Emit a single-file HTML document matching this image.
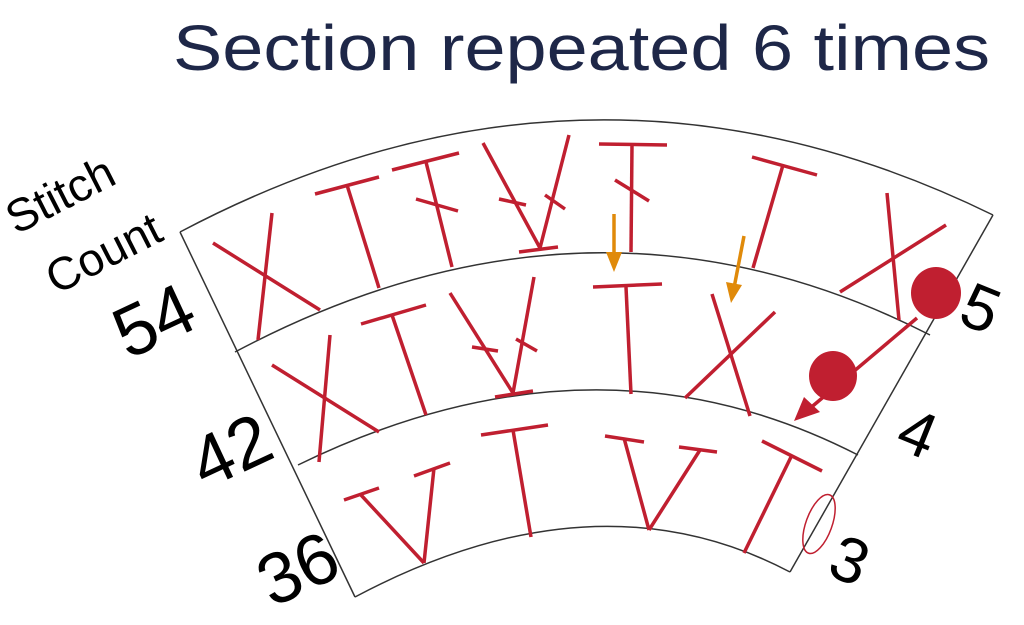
<!DOCTYPE html>
<html><head><meta charset="utf-8"><style>
html,body{margin:0;padding:0;background:#fff;}
svg{display:block;}
</style></head><body>
<svg width="1024" height="625" viewBox="0 0 1024 625" xmlns="http://www.w3.org/2000/svg">
<text x="173" y="70" font-family="Liberation Sans, sans-serif" font-size="64" fill="#1e2748" textLength="817" lengthAdjust="spacingAndGlyphs">Section repeated 6 times</text>

<g fill="none" stroke="#333" stroke-width="1.5">
<path d="M180 232 Q588 16.5 993 215"/>
<path d="M235 352 Q592 162.5 930 335"/>
<path d="M298 465 Q595 320 858 455"/>
<path d="M355 597 Q595 469.5 790 572"/>
<path d="M180 232 L355 597"/>
<path d="M993 215 L790 572"/>
</g>

<g stroke="#c01f30" stroke-width="3.5" stroke-linecap="butt" fill="none">
<line x1="213" y1="243" x2="320" y2="310"/><line x1="272" y1="213" x2="258" y2="340"/>
<line x1="315" y1="194" x2="379" y2="177"/><line x1="347" y1="185" x2="379" y2="288"/>
<line x1="392" y1="170" x2="459" y2="153"/><line x1="426" y1="162" x2="452" y2="267"/><line x1="416" y1="199" x2="458" y2="211"/>
<line x1="483" y1="143" x2="540" y2="248"/><line x1="569" y1="135" x2="540" y2="248"/><line x1="519" y1="252" x2="558" y2="247"/>
<line x1="499" y1="199" x2="526" y2="205"/><line x1="545" y1="195" x2="565" y2="209"/>
<line x1="599" y1="144" x2="667" y2="145"/><line x1="632" y1="145" x2="631" y2="252"/><line x1="615" y1="180" x2="649" y2="201"/>
<line x1="752" y1="157" x2="817" y2="175"/><line x1="783" y1="165" x2="753" y2="268"/>
<line x1="887" y1="193" x2="899" y2="320"/><line x1="946" y1="225" x2="840" y2="292"/>
<line x1="272" y1="365" x2="379" y2="432"/><line x1="330" y1="335" x2="319" y2="462"/>
<line x1="361" y1="324" x2="426" y2="305"/><line x1="392" y1="315" x2="426" y2="415"/>
<line x1="450" y1="293" x2="513" y2="393"/><line x1="534" y1="277" x2="513" y2="393"/><line x1="495" y1="397" x2="533" y2="391"/>
<line x1="472" y1="347" x2="498" y2="351"/><line x1="516" y1="339" x2="537" y2="351"/>
<line x1="593" y1="287" x2="662" y2="284"/><line x1="626" y1="287" x2="631" y2="394"/>
<line x1="712" y1="294" x2="750" y2="416"/><line x1="775" y1="312" x2="685" y2="398"/>
<line x1="344" y1="500" x2="379" y2="488"/><line x1="361" y1="495" x2="424" y2="563"/>
<line x1="414" y1="476" x2="450" y2="463"/><line x1="434" y1="468" x2="424" y2="563"/>
<line x1="481" y1="435" x2="548" y2="425"/><line x1="513" y1="430" x2="531" y2="537"/>
<line x1="605" y1="436" x2="644" y2="442"/><line x1="624" y1="438" x2="649" y2="530"/><line x1="700" y1="450" x2="649" y2="530"/><line x1="679" y1="447" x2="717" y2="452"/>
<line x1="762" y1="441" x2="822" y2="471"/><line x1="791" y1="457" x2="744" y2="553"/>
<line x1="917" y1="318" x2="808" y2="410"/>
</g>
<polygon points="794,421 804,397 820,412" fill="#c01f30"/>
<ellipse cx="936" cy="293" rx="25" ry="26" fill="#c01f30"/>
<ellipse cx="833" cy="376" rx="24" ry="25" fill="#c01f30"/>
<ellipse cx="819" cy="524" rx="13" ry="31" transform="rotate(20 819 524)" fill="none" stroke="#c01f30" stroke-width="1.5"/>

<g stroke="#e08a0a" stroke-width="3.5" fill="#e08a0a">
<line x1="614" y1="214" x2="614" y2="258"/>
<polygon points="606,252 622,252 614,272" stroke="none"/>
<line x1="744" y1="236" x2="734" y2="288"/>
<polygon points="726,282 742,285 731,303" stroke="none"/>
</g>

<g font-family="Liberation Sans, sans-serif" fill="#000">
<text x="0" y="0" font-size="46" transform="translate(16,235) rotate(-27)">Stitch</text>
<text x="0" y="0" font-size="46" transform="translate(56,295) rotate(-27)">Count</text>
<text x="0" y="0" font-size="72" transform="translate(128,360) rotate(-25)">54</text>
<text x="0" y="0" font-size="72" transform="translate(205,490) rotate(-25)">42</text>
<text x="0" y="0" font-size="72" transform="translate(272,608) rotate(-25)">36</text>
<text x="0" y="0" font-size="64" transform="translate(956,322) rotate(22)">5</text>
<text x="0" y="0" font-size="64" transform="translate(893,447) rotate(22)">4</text>
<text x="0" y="0" font-size="64" transform="translate(825,574) rotate(22)">3</text>
</g>
</svg>
</body></html>
